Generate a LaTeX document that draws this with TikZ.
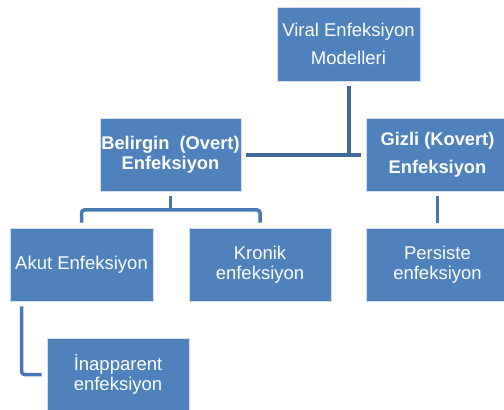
\documentclass[tikz,border=0pt]{standalone}
\usepackage{fontspec}
\setmainfont{Liberation Sans}
\usetikzlibrary{calc}
\definecolor{boxblue}{HTML}{4F81BD}
\definecolor{lineA}{HTML}{3D6899}
\definecolor{lineB}{HTML}{4878B4}
\begin{document}
\begin{tikzpicture}[x=1pt,y=-1pt,
  box/.style={draw=white!75!boxblue, line width=0.8pt, fill=boxblue, text=white,
    align=center, inner sep=0pt, minimum height=73pt},
  reg/.style={font=\fontsize{18.5}{20}\selectfont},
  regwide/.style={font=\fontsize{18.5}{28}\selectfont},
  boldf/.style={font=\fontsize{18.3}{20}\selectfont\bfseries},
  boldwide/.style={font=\fontsize{18.3}{28}\selectfont\bfseries},
  conn/.style={draw=lineB, line width=3.5pt},
  connmain/.style={draw=lineA, line width=4pt}]
\clip (0,0) rectangle (504,410);
\fill[white] (0,0) rectangle (504,410);
\node[box, regwide, minimum width=143pt, minimum height=74pt] (top) at (348.5,44) {Viral Enfeksiyon\\Modelleri};
\node[box, boldf, minimum width=141pt] (bel) at (170.5,154.5) {Belirgin\ \ (Overt)\\Enfeksiyon};
\node[box, boldwide, minimum width=143pt] (giz) at (437.5,154.5) {Gizli (Kovert)\\Enfeksiyon};
\node[box, reg, minimum width=143pt] (akut) at (81.5,264.5) {Akut Enfeksiyon};
\node[box, reg, minimum width=142pt] (kron) at (260,264.5) {Kronik\\enfeksiyon};
\node[box, reg, minimum width=143pt] (pers) at (437.5,264.5) {Persiste\\enfeksiyon};
\node[box, reg, minimum width=142pt] (inap) at (118,374.5) {İnapparent\\enfeksiyon};
% top level connector
\draw[connmain, shorten <=5pt] (top.south) -- (top.south |- bel.east);
\draw[connmain, shorten <=5pt, shorten >=5pt] (bel.east) -- (giz.west);
% Belirgin children
\coordinate (bj) at ($(bel.south)+(0,18.5)$);
\draw[conn, shorten <=5pt] (bel.south) -- (bj);
\draw[conn, rounded corners=3pt, shorten <=5pt, shorten >=5pt] (akut.north) |- (bj) -| (kron.north);
% Gizli child
\draw[conn, shorten <=5pt, shorten >=5pt] (giz.south) -- (pers.north);
% Akut child
\draw[conn, rounded corners=3pt, shorten <=5pt, shorten >=5pt] ($(akut.south west)+(12,0)$) |- (inap.west);
\end{tikzpicture}
\end{document}
